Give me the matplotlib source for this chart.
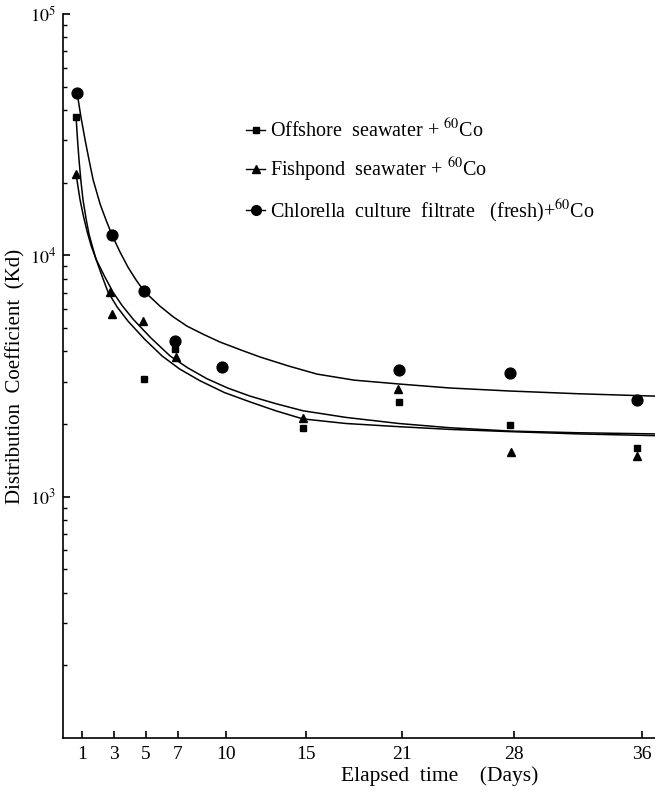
import numpy as np
import matplotlib
matplotlib.use("Agg")
import matplotlib.pyplot as plt
from matplotlib.lines import Line2D
from matplotlib.ticker import FixedLocator, LogLocator, NullFormatter

plt.rcParams['font.family'] = ['Liberation Serif', 'DejaVu Serif']
plt.rcParams['mathtext.fontset'] = 'stix'

# measured points (days, Kd)
off_days = [0.625, 4.875, 6.81, 14.8, 20.8, 27.75, 35.7]
off_kd = [37500, 3070, 4090, 1930, 2470, 1990, 1590]

fish_days = [0.625, 2.75, 2.875, 4.81, 6.875, 14.8, 20.75, 27.8, 35.7]
fish_kd = [21800, 7030, 5700, 5330, 3790, 2120, 2790, 1530, 1480]

chl_days = [0.69, 2.88, 4.88, 6.81, 9.75, 20.8, 27.75, 35.7]
chl_kd = [47200, 12100, 7100, 4420, 3440, 3350, 3250, 2520]

# hand-drawn fitted curves
off_curve_d = [0.625, 0.72, 0.81, 0.93, 1.06, 1.25, 1.44, 1.66, 1.88, 2.25, 2.63, 3.2, 3.88, 4.9,
               6.0, 7.1, 8.38, 9.9, 11.5, 13.1, 14.8, 17.5, 20.8, 24.0, 27.75, 32.0, 36.8]
off_curve_k = [37500, 30000, 24900, 20300, 17000, 14200, 12200, 10800, 9620, 8200, 7030, 6100, 5330, 4500,
               3830, 3380, 3020, 2700, 2470, 2270, 2100, 2010, 1950, 1900, 1860, 1820, 1790]

fish_curve_d = [0.625, 0.75, 0.875, 1.08, 1.31, 1.58, 1.88, 2.4, 2.94, 3.5, 4.19, 5.3, 6.5, 7.6,
                8.81, 10.1, 11.5, 13.1, 14.8, 17.5, 20.8, 24.0, 27.75, 32.0, 36.8]
fish_curve_k = [21800, 19200, 17000, 14600, 12600, 10900, 9620, 8200, 7030, 6200, 5440, 4550, 3830, 3420,
                3080, 2820, 2610, 2430, 2270, 2130, 2010, 1930, 1870, 1840, 1820]

chl_curve_d = [0.69, 0.93, 1.19, 1.44, 1.69, 2.13, 2.5, 2.88, 3.38, 3.88, 4.38, 4.88, 5.88, 6.7, 7.56,
               8.6, 9.63, 10.9, 12.13, 13.9, 15.69, 18.0, 20.81, 24.0, 27.75, 32.0, 36.81]
chl_curve_k = [47200, 37500, 30100, 24800, 20600, 16300, 14000, 12100, 10300, 8910, 7900, 7100, 6150, 5560, 5090,
               4700, 4370, 4060, 3790, 3480, 3220, 3040, 2930, 2820, 2740, 2670, 2610]

day_ticks = [1, 3, 5, 7, 10, 15, 21, 28, 36]

fig = plt.figure(figsize=(6.55, 7.96), dpi=100)
ax = fig.add_axes([63/655, 1-738/796, 1-63/655, (738-14)/796])

ax.plot(off_curve_d, off_curve_k, color='black', lw=1.1)
ax.plot(fish_curve_d, fish_curve_k, color='black', lw=1.1)
ax.plot(chl_curve_d, chl_curve_k, color='black', lw=1.1)

ax.plot(off_days, off_kd, 's', color='black', ms=4.5, ls='none')
ax.plot(fish_days, fish_kd, '^', color='black', ms=5.5, ls='none')
ax.plot(chl_days, chl_kd, 'o', color='black', ms=7.8, ls='none')

ax.set_yscale('log')
ax.set_ylim(100, 1e5)
ax.set_xlim(-0.19, 36.81)

ax.set_xticks(day_ticks)
ax.set_xticklabels([str(d) for d in day_ticks], fontsize=14)
ax.yaxis.set_major_locator(FixedLocator([1e3, 1e4, 1e5]))
ax.set_yticklabels([r'$10^3$', r'$10^4$', r'$10^5$'], fontsize=13)
ax.yaxis.set_minor_locator(LogLocator(base=10, subs=np.arange(2, 10)))
ax.yaxis.set_minor_formatter(NullFormatter())

ax.tick_params(axis='both', which='major', direction='in', length=5, width=1.2, color='black')
ax.tick_params(axis='y', which='major', pad=5)
ax.tick_params(axis='y', which='minor', direction='in', length=3, width=1.0)
ax.tick_params(axis='x', which='major', pad=6)

for s in ['top', 'right']:
    ax.spines[s].set_visible(False)
for s in ['left', 'bottom']:
    ax.spines[s].set_linewidth(1.2)

ax.set_ylabel('Distribution  Coefficient  (Kd)', fontsize=15)
ax.yaxis.set_label_coords((25-63)/592, 0.5)
fig.text(440/655, 1-776/796, 'Elapsed  time    (Days)', fontsize=15.5, ha='center', va='center')

handles = [
    Line2D([], [], color='black', lw=1.0, marker='s', ms=4.5),
    Line2D([], [], color='black', lw=1.0, marker='^', ms=5.5),
    Line2D([], [], color='black', lw=1.0, marker='o', ms=7),
]
labels = [
    r'Offshore  seawater + $^{60}$Co',
    r'Fishpond  seawater + $^{60}$Co',
    r'Chlorella  culture  filtrate   (fresh)+$^{60}$Co',
]
fig.legend(handles, labels, loc='upper left', bbox_to_anchor=(238/655, 1-111/796),
           frameon=False, fontsize=14.5, handlelength=0.95, handletextpad=0.25,
           labelspacing=0.68, borderaxespad=0)

fig.savefig('out.png', dpi=100)
